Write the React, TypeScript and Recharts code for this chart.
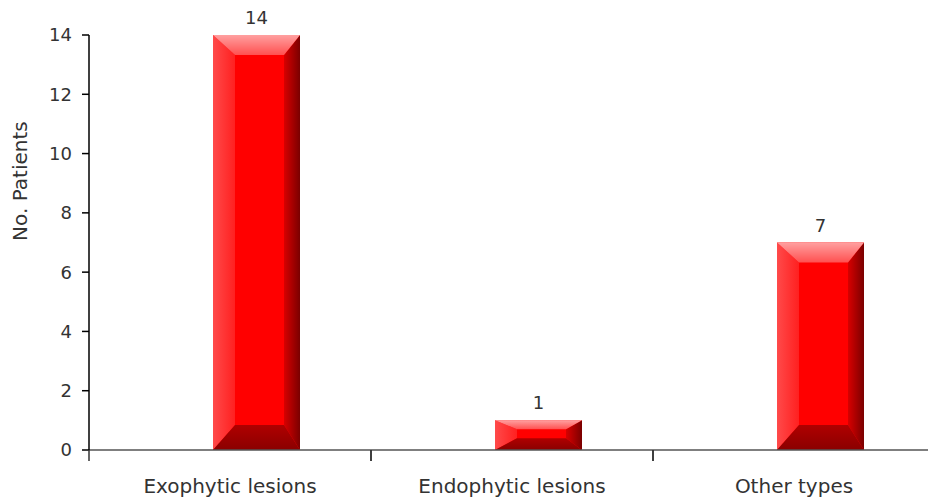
import React from 'react';
import { BarChart, Bar, XAxis, YAxis, LabelList } from 'recharts';

const categories = ['Exophytic lesions', 'Endophytic lesions', 'Other types'];
const patients = [14, 1, 7];
const yTicks = [0, 2, 4, 6, 8, 10, 12, 14];

const data = categories.map((c, i) => ({ category: c, patients: patients[i] }));

const FONT = '"DejaVu Sans", Verdana, sans-serif';
const TEXT = '#333';
const SHIFT = 26;

function BevelBar(props: any) {
  const { x, y, width, height } = props;
  if (!height || height <= 0) return null;
  const X = x + SHIFT;
  const w = width;
  const h = height;
  const t = Math.min(20, h * 0.3);
  const b = Math.min(25, h * 0.4);
  const l = 22;
  const r = 16;
  const pts = (a: number[][]) => a.map((p) => p.join(',')).join(' ');
  return (
    <g>
      <rect x={X} y={y} width={w} height={h} fill="#ff0000" />
      <polygon points={pts([[X, y], [X + l, y + t], [X + l, y + h - b], [X, y + h]])} fill="url(#leftFace)" />
      <polygon points={pts([[X + w, y], [X + w - r, y + t], [X + w - r, y + h - b], [X + w, y + h]])} fill="url(#rightFace)" />
      <polygon points={pts([[X, y], [X + w, y], [X + w - r, y + t], [X + l, y + t]])} fill="url(#topFace)" />
      <polygon points={pts([[X, y + h], [X + w, y + h], [X + w - r, y + h - b], [X + l, y + h - b]])} fill="url(#bottomFace)" />
    </g>
  );
}

function ValueLabel(props: any) {
  const { x, y, width, value } = props;
  return (
    <text x={x + width / 2 + SHIFT} y={y - 11} textAnchor="middle" fontFamily={FONT} fontSize={18} fill={TEXT}>
      {value}
    </text>
  );
}

function XTick(props: any) {
  const { x, y, payload } = props;
  const half = payload && typeof payload.offset === 'number' ? payload.offset : 0;
  return (
    <g>
      <line x1={x - half} y1={y} x2={x - half} y2={y + 11} stroke="#333" strokeWidth={1.5} />
      <line x1={x + half} y1={y} x2={x + half} y2={y + 11} stroke="#333" strokeWidth={1.5} />
      <text x={x} y={y + 43} textAnchor="middle" fontFamily={FONT} fontSize={20} fill={TEXT}>
        {payload.value}
      </text>
    </g>
  );
}

function YLabel(props: any) {
  const vb = props.viewBox || { x: 0, y: 35, width: 89, height: 415 };
  const cx = vb.x + 20;
  const cy = vb.y + vb.height * 0.352;
  return (
    <text x={cx} y={cy} transform={`rotate(-90, ${cx}, ${cy})`} textAnchor="middle" dominantBaseline="central" fontFamily={FONT} fontSize={20} fill={TEXT}>
      No. Patients
    </text>
  );
}

export default function App() {
  return (
    <div style={{ position: 'absolute', left: 0, top: 0, width: 928, height: 499, overflow: 'hidden', background: '#fff' }}>
      <BarChart width={940} height={499} data={data} margin={{ top: 35, right: 5, bottom: 0, left: 0 }}>
        <defs>
          <linearGradient id="leftFace" x1="0" y1="0" x2="1" y2="0">
            <stop offset="0%" stopColor="#ff4a4a" />
            <stop offset="100%" stopColor="#ff2020" />
          </linearGradient>
          <linearGradient id="rightFace" x1="0" y1="0" x2="1" y2="0">
            <stop offset="0%" stopColor="#d80000" />
            <stop offset="100%" stopColor="#7a0000" />
          </linearGradient>
          <linearGradient id="topFace" x1="0" y1="0" x2="0" y2="1">
            <stop offset="0%" stopColor="#ffa0a0" />
            <stop offset="100%" stopColor="#ff5050" />
          </linearGradient>
          <linearGradient id="bottomFace" x1="0" y1="0" x2="0" y2="1">
            <stop offset="0%" stopColor="#b00000" />
            <stop offset="100%" stopColor="#8a0000" />
          </linearGradient>
        </defs>
        <XAxis
          dataKey="category"
          height={49}
          axisLine={{ stroke: '#555', strokeWidth: 1.5 }}
          tickLine={false}
          tickSize={0}
          tickMargin={0}
          tick={<XTick />}
          interval={0}
        />
        <YAxis
          width={89}
          domain={[0, 14]}
          ticks={yTicks}
          tickSize={7}
          tickMargin={10}
          axisLine={{ stroke: '#000', strokeWidth: 1.5 }}
          tickLine={{ stroke: '#000', strokeWidth: 1.5 }}
          tick={{ fontFamily: FONT, fontSize: 18, fill: TEXT }}
          label={<YLabel />}
          allowDataOverflow
        />
        <Bar dataKey="patients" barSize={87} shape={<BevelBar />} isAnimationActive={false}>
          <LabelList dataKey="patients" content={<ValueLabel />} />
        </Bar>
      </BarChart>
    </div>
  );
}
